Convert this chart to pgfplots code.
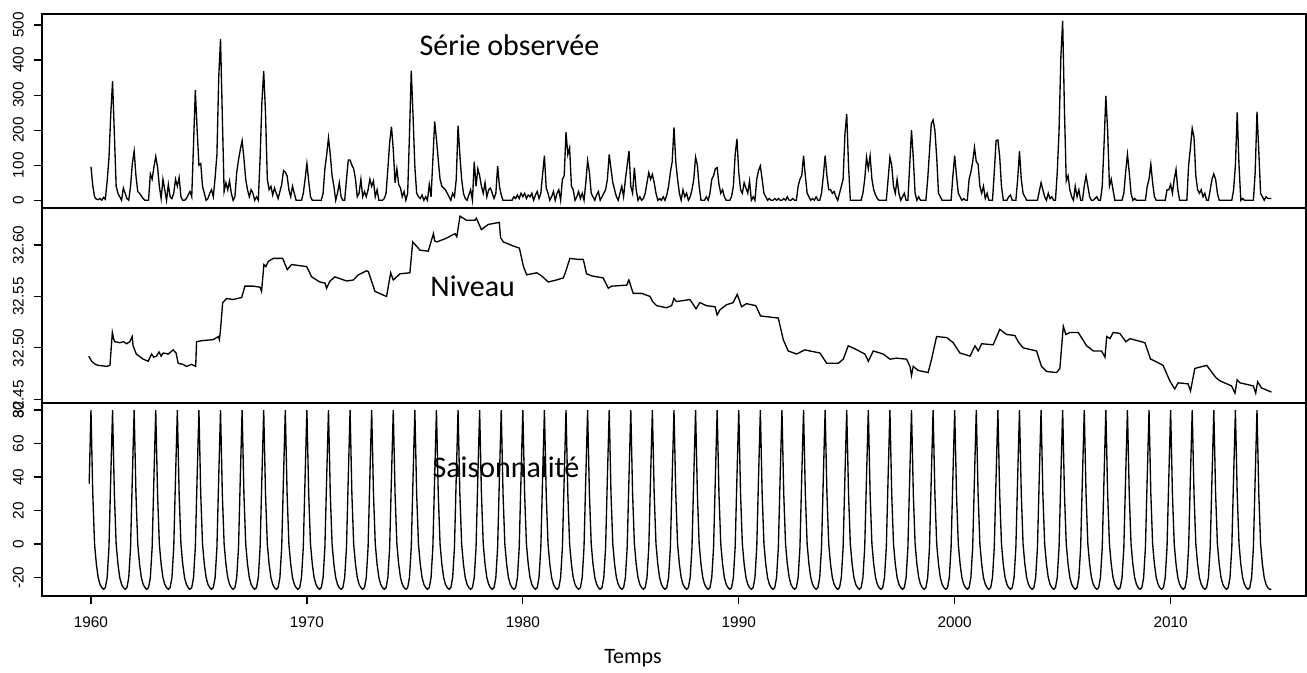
\documentclass[border=0pt]{standalone}
\usepackage{fontspec}
\setmainfont{Liberation Sans}
\newfontfamily\calibri{Carlito}
\usepackage{pgfplots}
\usepackage{pgfplotstable}
\pgfplotsset{compat=1.18}

\pgfplotstableread[row sep=\\, header=false]{
96\\42\\10\\3\\2\\5\\0\\8\\3\\55\\120\\245\\
340\\190\\40\\20\\10\\0\\35\\20\\5\\0\\40\\105\\
140\\70\\25\\20\\12\\5\\0\\0\\0\\75\\60\\95\\
125\\95\\40\\5\\60\\30\\0\\45\\10\\5\\20\\60\\
40\\65\\10\\0\\0\\5\\15\\25\\10\\160\\314\\200\\
100\\105\\40\\20\\0\\5\\20\\30\\10\\65\\130\\350\\
460\\240\\25\\50\\30\\55\\20\\0\\10\\80\\115\\145\\
170\\120\\60\\30\\10\\30\\20\\0\\10\\0\\120\\280\\
368\\250\\60\\30\\40\\15\\35\\20\\5\\25\\45\\85\\
80\\70\\30\\10\\40\\20\\0\\0\\0\\0\\20\\60\\
105\\55\\10\\0\\0\\0\\0\\0\\0\\20\\90\\130\\
178\\130\\70\\40\\0\\20\\50\\10\\0\\0\\60\\115\\
115\\100\\90\\60\\10\\20\\60\\10\\25\\10\\30\\60\\
40\\55\\10\\30\\0\\0\\0\\5\\20\\90\\165\\210\\
145\\50\\90\\45\\35\\10\\25\\0\\20\\185\\370\\240\\
95\\20\\10\\5\\15\\0\\10\\0\\45\\10\\115\\225\\
175\\115\\60\\40\\35\\30\\20\\10\\0\\20\\10\\60\\
213\\130\\60\\20\\5\\0\\15\\30\\0\\110\\40\\90\\
70\\40\\20\\50\\10\\30\\35\\20\\5\\20\\98\\40\\
15\\0\\0\\0\\0\\0\\0\\10\\5\\15\\5\\20\\
10\\20\\5\\15\\10\\20\\0\\15\\25\\5\\20\\75\\
127\\35\\20\\0\\10\\25\\0\\20\\30\\0\\60\\70\\
194\\130\\150\\40\\30\\0\\10\\25\\5\\20\\0\\50\\
113\\80\\20\\10\\0\\15\\25\\0\\10\\20\\30\\60\\
131\\90\\50\\30\\10\\0\\20\\40\\10\\60\\100\\141\\
40\\20\\93\\30\\0\\10\\0\\5\\20\\50\\79\\60\\
74\\50\\20\\0\\5\\0\\10\\0\\15\\40\\80\\110\\
208\\110\\60\\20\\0\\30\\10\\20\\0\\10\\30\\60\\
123\\100\\40\\0\\0\\0\\10\\0\\20\\60\\70\\90\\
93\\45\\20\\30\\10\\0\\0\\0\\10\\40\\130\\175\\
80\\30\\20\\50\\35\\20\\55\\0\\10\\0\\60\\85\\
98\\60\\20\\10\\0\\5\\0\\0\\5\\0\\5\\0\\
0\\5\\0\\10\\0\\0\\5\\0\\0\\40\\60\\70\\
127\\70\\20\\10\\0\\5\\0\\10\\0\\0\\20\\70\\
127\\70\\30\\30\\20\\25\\10\\0\\20\\40\\60\\189\\
246\\100\\0\\0\\0\\0\\0\\0\\0\\20\\60\\123\\
90\\127\\60\\30\\15\\5\\0\\0\\0\\0\\0\\60\\
123\\100\\40\\20\\60\\20\\0\\10\\20\\0\\0\\100\\
200\\120\\20\\0\\10\\0\\0\\0\\0\\60\\140\\218\\
229\\200\\123\\20\\10\\0\\0\\0\\0\\0\\0\\70\\
127\\70\\20\\10\\0\\5\\0\\0\\60\\80\\110\\151\\
110\\103\\40\\20\\40\\5\\20\\0\\0\\0\\80\\170\\
172\\125\\40\\0\\0\\0\\10\\15\\0\\0\\0\\60\\
140\\60\\20\\10\\0\\0\\0\\0\\0\\0\\0\\25\\
50\\30\\10\\0\\20\\5\\10\\0\\0\\80\\199\\408\\
512\\256\\55\\70\\30\\10\\0\\40\\10\\30\\0\\0\\
40\\70\\40\\10\\0\\0\\5\\10\\0\\0\\40\\160\\
298\\199\\40\\60\\30\\0\\0\\0\\0\\0\\20\\80\\
131\\80\\20\\0\\5\\0\\0\\0\\0\\0\\0\\40\\
60\\103\\50\\10\\0\\0\\0\\0\\0\\0\\30\\30\\
45\\20\\60\\88\\30\\0\\0\\0\\0\\0\\100\\150\\
205\\180\\70\\30\\20\\30\\10\\20\\0\\0\\30\\60\\
75\\60\\20\\0\\0\\0\\0\\0\\0\\0\\0\\30\\
100\\251\\100\\0\\5\\0\\0\\0\\0\\0\\0\\80\\
253\\140\\20\\10\\0\\10\\5\\5\\5\\
}\observed

% seasonal: first value is Dec 1959, then Jan 1960 ... Sep 2014
\pgfplotstableread[row sep=\\, header=false]{
36\\
80\\30\\0\\-12\\-20\\-24\\-26\\-27\\-26\\-20\\-2\\40\\
80\\30\\0\\-12\\-20\\-24\\-26\\-27\\-26\\-20\\-2\\40\\
80\\30\\0\\-12\\-20\\-24\\-26\\-27\\-26\\-20\\-2\\40\\
80\\30\\0\\-12\\-20\\-24\\-26\\-27\\-26\\-20\\-2\\40\\
80\\30\\0\\-12\\-20\\-24\\-26\\-27\\-26\\-20\\-2\\40\\
80\\30\\0\\-12\\-20\\-24\\-26\\-27\\-26\\-20\\-2\\40\\
80\\30\\0\\-12\\-20\\-24\\-26\\-27\\-26\\-20\\-2\\40\\
80\\30\\0\\-12\\-20\\-24\\-26\\-27\\-26\\-20\\-2\\40\\
80\\30\\0\\-12\\-20\\-24\\-26\\-27\\-26\\-20\\-2\\40\\
80\\30\\0\\-12\\-20\\-24\\-26\\-27\\-26\\-20\\-2\\40\\
80\\30\\0\\-12\\-20\\-24\\-26\\-27\\-26\\-20\\-2\\40\\
80\\30\\0\\-12\\-20\\-24\\-26\\-27\\-26\\-20\\-2\\40\\
80\\30\\0\\-12\\-20\\-24\\-26\\-27\\-26\\-20\\-2\\40\\
80\\30\\0\\-12\\-20\\-24\\-26\\-27\\-26\\-20\\-2\\40\\
80\\30\\0\\-12\\-20\\-24\\-26\\-27\\-26\\-20\\-2\\40\\
80\\30\\0\\-12\\-20\\-24\\-26\\-27\\-26\\-20\\-2\\40\\
80\\30\\0\\-12\\-20\\-24\\-26\\-27\\-26\\-20\\-2\\40\\
80\\30\\0\\-12\\-20\\-24\\-26\\-27\\-26\\-20\\-2\\40\\
80\\30\\0\\-12\\-20\\-24\\-26\\-27\\-26\\-20\\-2\\40\\
80\\30\\0\\-12\\-20\\-24\\-26\\-27\\-26\\-20\\-2\\40\\
80\\30\\0\\-12\\-20\\-24\\-26\\-27\\-26\\-20\\-2\\40\\
80\\30\\0\\-12\\-20\\-24\\-26\\-27\\-26\\-20\\-2\\40\\
80\\30\\0\\-12\\-20\\-24\\-26\\-27\\-26\\-20\\-2\\40\\
80\\30\\0\\-12\\-20\\-24\\-26\\-27\\-26\\-20\\-2\\40\\
80\\30\\0\\-12\\-20\\-24\\-26\\-27\\-26\\-20\\-2\\40\\
80\\30\\0\\-12\\-20\\-24\\-26\\-27\\-26\\-20\\-2\\40\\
80\\30\\0\\-12\\-20\\-24\\-26\\-27\\-26\\-20\\-2\\40\\
80\\30\\0\\-12\\-20\\-24\\-26\\-27\\-26\\-20\\-2\\40\\
80\\30\\0\\-12\\-20\\-24\\-26\\-27\\-26\\-20\\-2\\40\\
80\\30\\0\\-12\\-20\\-24\\-26\\-27\\-26\\-20\\-2\\40\\
80\\30\\0\\-12\\-20\\-24\\-26\\-27\\-26\\-20\\-2\\40\\
80\\30\\0\\-12\\-20\\-24\\-26\\-27\\-26\\-20\\-2\\40\\
80\\30\\0\\-12\\-20\\-24\\-26\\-27\\-26\\-20\\-2\\40\\
80\\30\\0\\-12\\-20\\-24\\-26\\-27\\-26\\-20\\-2\\40\\
80\\30\\0\\-12\\-20\\-24\\-26\\-27\\-26\\-20\\-2\\40\\
80\\30\\0\\-12\\-20\\-24\\-26\\-27\\-26\\-20\\-2\\40\\
80\\30\\0\\-12\\-20\\-24\\-26\\-27\\-26\\-20\\-2\\40\\
80\\30\\0\\-12\\-20\\-24\\-26\\-27\\-26\\-20\\-2\\40\\
80\\30\\0\\-12\\-20\\-24\\-26\\-27\\-26\\-20\\-2\\40\\
80\\30\\0\\-12\\-20\\-24\\-26\\-27\\-26\\-20\\-2\\40\\
80\\30\\0\\-12\\-20\\-24\\-26\\-27\\-26\\-20\\-2\\40\\
80\\30\\0\\-12\\-20\\-24\\-26\\-27\\-26\\-20\\-2\\40\\
80\\30\\0\\-12\\-20\\-24\\-26\\-27\\-26\\-20\\-2\\40\\
80\\30\\0\\-12\\-20\\-24\\-26\\-27\\-26\\-20\\-2\\40\\
80\\30\\0\\-12\\-20\\-24\\-26\\-27\\-26\\-20\\-2\\40\\
80\\30\\0\\-12\\-20\\-24\\-26\\-27\\-26\\-20\\-2\\40\\
80\\30\\0\\-12\\-20\\-24\\-26\\-27\\-26\\-20\\-2\\40\\
80\\30\\0\\-12\\-20\\-24\\-26\\-27\\-26\\-20\\-2\\40\\
80\\30\\0\\-12\\-20\\-24\\-26\\-27\\-26\\-20\\-2\\40\\
80\\30\\0\\-12\\-20\\-24\\-26\\-27\\-26\\-20\\-2\\40\\
80\\30\\0\\-12\\-20\\-24\\-26\\-27\\-26\\-20\\-2\\40\\
80\\30\\0\\-12\\-20\\-24\\-26\\-27\\-26\\-20\\-2\\40\\
80\\30\\0\\-12\\-20\\-24\\-26\\-27\\-26\\-20\\-2\\40\\
80\\30\\0\\-12\\-20\\-24\\-26\\-27\\-26\\-20\\-2\\40\\
80\\30\\0\\-12\\-20\\-24\\-26\\-27\\-27\\
}\seasonal

\pgfplotsset{panel/.style={
  scale only axis, width=948.2pt, xmin=1957.72, xmax=2016.27,
  anchor=north west,
  axis line style={line width=1.4pt, black},
  tick style={line width=0.9pt, black},
  tick align=outside, major tick length=6pt,
  ytick pos=left, xtick pos=bottom,
  minor tick num=0,
  yticklabel style={rotate=90, anchor=south, font=\fontsize{11.5}{13}\selectfont},
  xticklabel style={font=\fontsize{11.5}{13}\selectfont},
  xticklabel shift=6pt,
  yticklabel shift=4pt,
  /pgf/number format/assume math mode=true,
  /pgf/number format/1000 sep={},
}}
\tikzset{ser/.style={black, line width=1pt, mark=none, line join=miter}}

\begin{document}
\begin{tikzpicture}
\useasboundingbox (0,0) rectangle (980.25pt,504.75pt);

% Panel 1: observed
\begin{axis}[panel, at={(31.3pt,494.25pt)}, height=145.5pt,
  ymin=-22, ymax=531.4, xtick=\empty,
  ytick={0,100,200,300,400,500}]
\addplot[ser] table[x expr=1960+\coordindex/12, y index=0] {\observed};
\node[anchor=base west, font=\calibri\fontsize{22.5}{27}\selectfont] at (axis cs:1975.0,414) {Série observée};
\end{axis}

% Panel 2: level
\begin{axis}[panel, at={(31.3pt,348.75pt)}, height=146.25pt,
  ymin=32.4464, ymax=32.636, xtick=\empty,
  ytick={32.45,32.50,32.55,32.60},
  yticklabel style={/pgf/number format/.cd, fixed, fixed zerofill, precision=2}]
\addplot[ser] coordinates {
(1959.90,32.492) (1960.03,32.487) (1960.20,32.484) (1960.34,32.483) (1960.73,32.482) (1960.88,32.483) (1960.99,32.515) (1961.06,32.508) (1961.11,32.506) (1961.34,32.505) (1961.50,32.506) (1961.65,32.504) (1961.80,32.506) (1961.91,32.511) (1961.95,32.502) (1962.10,32.494) (1962.42,32.489) (1962.65,32.487) (1962.81,32.494) (1962.90,32.491) (1963.04,32.492) (1963.15,32.496) (1963.25,32.492) (1963.35,32.495) (1963.58,32.494) (1963.81,32.498) (1963.94,32.495) (1964.04,32.485) (1964.25,32.484) (1964.43,32.482) (1964.66,32.484) (1964.85,32.482) (1964.89,32.506) (1965.13,32.507) (1965.66,32.508) (1965.90,32.511) (1965.95,32.508) (1966.00,32.518) (1966.10,32.544) (1966.28,32.548) (1966.59,32.547) (1966.98,32.549) (1967.13,32.560) (1967.52,32.560) (1967.83,32.559) (1967.90,32.555) (1968.01,32.581) (1968.10,32.579) (1968.21,32.584) (1968.44,32.587) (1968.88,32.587) (1969.09,32.576) (1969.29,32.581) (1969.99,32.579) (1970.22,32.569) (1970.60,32.564) (1970.84,32.563) (1970.91,32.558) (1971.07,32.565) (1971.30,32.569) (1971.84,32.565) (1972.15,32.566) (1972.38,32.571) (1972.77,32.575) (1972.85,32.574) (1973.15,32.555) (1973.46,32.552) (1973.69,32.550) (1973.88,32.573) (1974.00,32.566) (1974.31,32.572) (1974.77,32.573) (1974.90,32.603) (1975.24,32.595) (1975.62,32.594) (1975.86,32.611) (1975.92,32.604) (1976.02,32.603) (1976.39,32.606) (1976.86,32.611) (1976.94,32.608) (1977.09,32.628) (1977.40,32.624) (1977.78,32.624) (1977.85,32.626) (1978.08,32.615) (1978.40,32.620) (1978.91,32.622) (1978.97,32.607) (1979.10,32.603) (1979.56,32.599) (1979.84,32.597) (1980.03,32.579) (1980.18,32.571) (1980.64,32.573) (1980.87,32.570) (1981.18,32.564) (1981.56,32.566) (1981.87,32.568) (1981.95,32.572) (1982.18,32.587) (1982.57,32.586) (1982.80,32.586) (1982.95,32.572) (1983.19,32.570) (1983.72,32.568) (1983.96,32.558) (1984.11,32.560) (1984.81,32.561) (1984.91,32.566) (1985.11,32.553) (1985.50,32.553) (1985.89,32.550) (1986.01,32.545) (1986.20,32.541) (1986.66,32.539) (1986.89,32.541) (1987.00,32.548) (1987.12,32.545) (1987.74,32.547) (1988.02,32.538) (1988.20,32.544) (1988.51,32.541) (1988.90,32.540) (1989.00,32.532) (1989.13,32.537) (1989.44,32.542) (1989.74,32.544) (1989.93,32.552) (1990.13,32.540) (1990.36,32.543) (1990.79,32.541) (1991.01,32.531) (1991.83,32.529) (1992.06,32.508) (1992.29,32.497) (1992.68,32.494) (1993.06,32.498) (1993.76,32.495) (1994.07,32.485) (1994.61,32.485) (1994.84,32.489) (1995.07,32.502) (1995.38,32.499) (1995.84,32.494) (1996.00,32.487) (1996.23,32.497) (1996.69,32.494) (1997.00,32.489) (1997.31,32.490) (1997.77,32.489) (1997.93,32.482) (1998.00,32.473) (1998.08,32.482) (1998.31,32.478) (1998.77,32.476) (1998.93,32.489) (1999.16,32.511) (1999.63,32.510) (1999.93,32.505) (2000.24,32.495) (2000.71,32.492) (2000.94,32.502) (2001.09,32.497) (2001.25,32.504) (2001.78,32.503) (2002.09,32.518) (2002.40,32.513) (2002.79,32.512) (2002.94,32.506) (2003.17,32.500) (2003.79,32.497) (2004.02,32.482) (2004.26,32.477) (2004.72,32.476) (2004.87,32.480) (2005.03,32.521) (2005.15,32.513) (2005.34,32.515) (2005.72,32.515) (2006.11,32.502) (2006.42,32.497) (2006.80,32.497) (2006.96,32.491) (2007.04,32.511) (2007.19,32.509) (2007.34,32.515) (2007.65,32.514) (2007.93,32.506) (2008.12,32.509) (2008.81,32.505) (2009.07,32.489) (2009.19,32.488) (2009.65,32.483) (2009.96,32.468) (2010.19,32.460) (2010.35,32.466) (2010.81,32.465) (2010.92,32.458) (2011.12,32.480) (2011.67,32.483) (2012.10,32.471) (2012.28,32.468) (2012.82,32.463) (2012.98,32.456) (2013.08,32.469) (2013.21,32.466) (2013.83,32.463) (2013.94,32.456) (2014.03,32.467) (2014.21,32.461) (2014.67,32.457)
};
\node[anchor=base west, font=\calibri\fontsize{22.5}{27}\selectfont] at (axis cs:1975.5,32.55) {Niveau};
\end{axis}

% Panel 3: seasonal
\begin{axis}[panel, at={(31.3pt,202.5pt)}, height=144.75pt,
  ymin=-31, ymax=84.2,
  ytick={-20,0,20,40,60,80},
  xtick={1960,1970,1980,1990,2000,2010}]
\addplot[ser] table[x expr=1959.9167+\coordindex/12, y index=0] {\seasonal};
\node[anchor=base west, font=\calibri\fontsize{22.5}{27}\selectfont] at (axis cs:1975.6,39.6) {Saisonnalité};
\end{axis}

\node[anchor=base, font=\calibri\fontsize{16.5}{20}\selectfont] at (474.75pt,6.75pt) {Temps};
\end{tikzpicture}
\end{document}
